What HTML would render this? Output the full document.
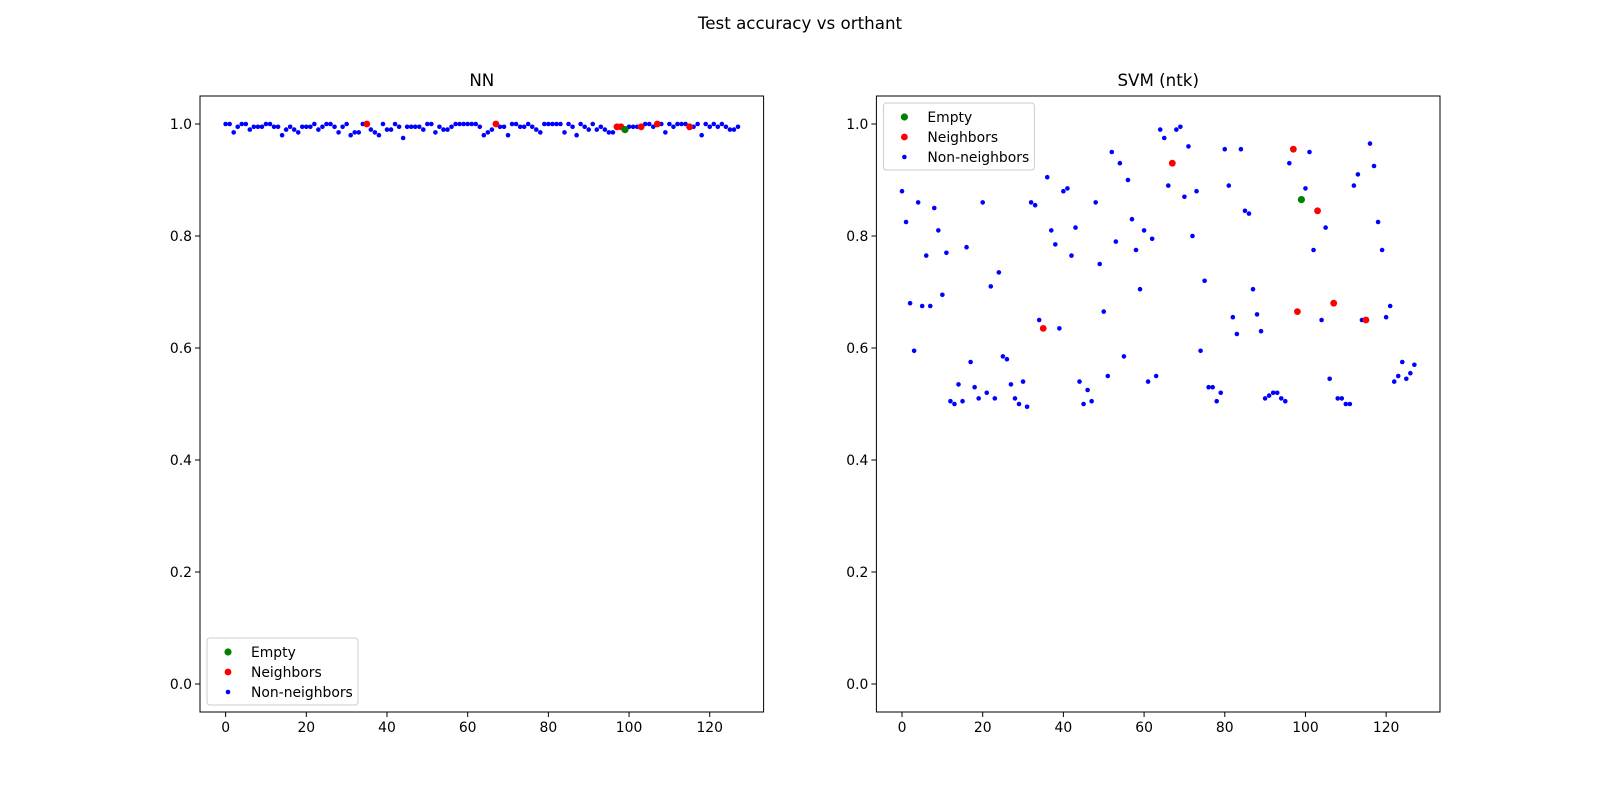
<!DOCTYPE html>
<html><head><meta charset="utf-8"><style>
body{margin:0;background:#fff;}
svg{display:block;font-family:"DejaVu Sans","Liberation Sans",sans-serif;}
</style></head><body>
<svg id="fig" width="1600" height="800" viewBox="0 0 1600 800">
<rect width="1600" height="800" fill="#fff"/>
<text x="800" y="29" font-size="16.7" text-anchor="middle">Test accuracy vs orthant</text>
</svg>
<script>
const nnValues=[1.0,1.0,0.985,0.995,1.0,1.0,0.99,0.995,0.995,0.995,1.0,1.0,0.995,0.995,0.98,0.99,0.995,0.99,0.985,0.995,0.995,0.995,1.0,0.99,0.995,1.0,1.0,0.995,0.985,0.995,1.0,0.98,0.985,0.985,1.0,1.0,0.99,0.985,0.98,1.0,0.99,0.99,1.0,0.995,0.975,0.995,0.995,0.995,0.995,0.99,1.0,1.0,0.985,0.995,0.99,0.99,0.995,1.0,1.0,1.0,1.0,1.0,1.0,0.995,0.98,0.985,0.99,1.0,0.995,0.995,0.98,1.0,1.0,0.995,0.995,1.0,0.995,0.99,0.985,1.0,1.0,1.0,1.0,1.0,0.985,1.0,0.995,0.98,1.0,0.995,0.99,1.0,0.99,0.995,0.99,0.985,0.985,0.995,0.995,0.99,0.995,0.995,0.995,0.995,1.0,1.0,0.995,1.0,1.0,0.985,1.0,0.995,1.0,1.0,1.0,0.995,0.995,1.0,0.98,1.0,0.995,1.0,0.995,1.0,0.995,0.99,0.99,0.995];
const svmValues=[0.88,0.825,0.68,0.595,0.86,0.675,0.765,0.675,0.85,0.81,0.695,0.77,0.505,0.5,0.535,0.505,0.78,0.575,0.53,0.51,0.86,0.52,0.71,0.51,0.735,0.585,0.58,0.535,0.51,0.5,0.54,0.495,0.86,0.855,0.65,0.635,0.905,0.81,0.785,0.635,0.88,0.885,0.765,0.815,0.54,0.5,0.525,0.505,0.86,0.75,0.665,0.55,0.95,0.79,0.93,0.585,0.9,0.83,0.775,0.705,0.81,0.54,0.795,0.55,0.99,0.975,0.89,0.93,0.99,0.995,0.87,0.96,0.8,0.88,0.595,0.72,0.53,0.53,0.505,0.52,0.955,0.89,0.655,0.625,0.955,0.845,0.84,0.705,0.66,0.63,0.51,0.515,0.52,0.52,0.51,0.505,0.93,0.955,0.665,0.865,0.885,0.95,0.775,0.845,0.65,0.815,0.545,0.68,0.51,0.51,0.5,0.5,0.89,0.91,0.65,0.65,0.965,0.925,0.825,0.775,0.655,0.675,0.54,0.55,0.575,0.545,0.555,0.57];
const neighborIdx=[35,67,97,98,103,107,115];
const emptyIdx=[99];
const xTicks=[0,20,40,60,80,100,120];
const yTicks=[0.0,0.2,0.4,0.6,0.8,1.0];
const NS='http://www.w3.org/2000/svg';
const svg=document.getElementById('fig');
function mk(tag,attrs,parent){const e=document.createElementNS(NS,tag);for(const k in attrs)e.setAttribute(k,attrs[k]);(parent||svg).appendChild(e);return e;}
function panel(left,values,title,legendPos,key){
  const top=96,bottom=712,right=left+563.6;
  const xs=v=>left+(v+6.35)/139.7*(right-left);
  const ys=v=>bottom-(v+0.05)/1.1*(bottom-top);
  const g=mk('g',{});
  
  
  const t=mk('text',{x:(left+right)/2,y:top-10,'font-size':'16.7','text-anchor':'middle'},g);t.textContent=title;
  
  
  xTicks.forEach(v=>{const x=xs(v);mk('line',{x1:x,x2:x,y1:bottom,y2:bottom+5,stroke:'#000','stroke-width':1},g);
    const l=mk('text',{x:x,y:bottom+20,'font-size':'13.9','text-anchor':'middle'},g);l.textContent=v;
    
    });
  yTicks.forEach(v=>{const y=ys(v);mk('line',{x1:left-5,x2:left,y1:y,y2:y,stroke:'#000','stroke-width':1},g);
    const l=mk('text',{x:left-8,y:y+5,'font-size':'13.9','text-anchor':'end'},g);l.textContent=v.toFixed(1);
    
    });
  values.forEach((v,i)=>{if(neighborIdx.includes(i)||emptyIdx.includes(i))return;
    const c=mk('circle',{cx:xs(i),cy:ys(v),r:2.3,fill:'#0000ff'},g);
    
    });
  neighborIdx.forEach(i=>{const c=mk('circle',{cx:xs(i),cy:ys(values[i]),r:3.4,fill:'#ff0000'},g);
    
    });
  emptyIdx.forEach(i=>{const c=mk('circle',{cx:xs(i),cy:ys(values[i]),r:3.6,fill:'#008000'},g);
    
    });
  const fr=mk('rect',{x:left,y:top,width:right-left,height:bottom-top,fill:'none',stroke:'#000','stroke-width':1},g);
  
  
  const lx=left+7,ly=legendPos==='top'?top+7:bottom-74;
  const lg=mk('g',{},g);
  
  
  mk('rect',{x:lx,y:ly,width:151,height:67,rx:3,fill:'#fff',stroke:'#ccc','stroke-width':1},lg);
  const items=[['Empty','#008000',3.6],['Neighbors','#ff0000',3.4],['Non-neighbors','#0000ff',2.3]];
  items.forEach((it,k)=>{const yy=ly+14+k*20;
    mk('circle',{cx:lx+21,cy:yy,r:it[2],fill:it[1]},lg);
    const tx=mk('text',{x:lx+44,y:yy+5,'font-size':'13.9'},lg);tx.textContent=it[0];
    
    });
}
panel(200,nnValues,'NN','bottom','nn');
panel(876.4,svmValues,'SVM (ntk)','top','svm');
</script>
</body></html>
